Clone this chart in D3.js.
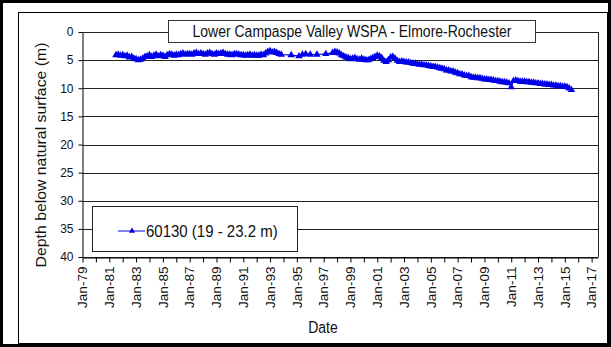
<!DOCTYPE html>
<html>
<head>
<meta charset="utf-8">
<script src="https://cdn.jsdelivr.net/npm/d3@7"></script>
<style>
  html, body { margin: 0; padding: 0; background: #fff; }
  svg { display: block; font-family: "Liberation Sans", Arial, sans-serif; }
</style>
</head>
<body>
<svg id="chart" width="611" height="347"></svg>
<script>
// Bore 60130 — depth to water below natural surface (m)
const chartTitle = "Lower Campaspe Valley WSPA - Elmore-Rochester";
const seriesName = "60130 (19 - 23.2 m)";
const yTicks = [0, 5, 10, 15, 20, 25, 30, 35, 40];
const xTickYears = d3.range(1979, 2018, 2);

const sampleDates = [
  "1981-07","1981-09","1981-11",
  "1982-01","1982-03","1982-05","1982-07","1982-09","1982-11",
  "1983-01","1983-03","1983-05","1983-07","1983-09","1983-11",
  "1984-01","1984-03","1984-05","1984-07","1984-09","1984-11",
  "1985-01","1985-03","1985-05","1985-07","1985-09","1985-11",
  "1986-01","1986-03","1986-05","1986-07","1986-09","1986-11",
  "1987-01","1987-03","1987-05","1987-07","1987-09","1987-11",
  "1988-01","1988-03","1988-05","1988-07","1988-09","1988-11",
  "1989-01","1989-03","1989-05","1989-07","1989-09","1989-11",
  "1990-01","1990-03","1990-05","1990-07","1990-09","1990-11",
  "1991-01","1991-03","1991-05","1991-07","1991-09","1991-11",
  "1992-01","1992-03","1992-05","1992-07","1992-09","1992-11",
  "1993-01","1993-03","1993-05","1993-07","1993-09","1993-11",
  "1994-08","1995-03","1995-06","1995-09","1996-01","1996-07",
  "1997-03","1997-09","1997-11","1998-01","1998-03",
  "1998-05","1998-07","1998-09","1998-11",
  "1999-01","1999-03","1999-05","1999-07","1999-09","1999-11",
  "2000-01","2000-03","2000-05","2000-07","2000-09","2000-11",
  "2001-01","2001-03","2001-05","2001-07","2001-09","2001-11",
  "2002-01","2002-03","2002-05","2002-07","2002-09","2002-11",
  "2003-01","2003-03","2003-05","2003-07","2003-09","2003-11",
  "2004-01","2004-03","2004-05","2004-07","2004-09","2004-11",
  "2005-01","2005-03","2005-05","2005-07","2005-09","2005-11",
  "2006-01","2006-03","2006-05","2006-07","2006-09","2006-11",
  "2007-01","2007-03","2007-05","2007-07","2007-09","2007-11",
  "2008-01","2008-03","2008-05","2008-07","2008-09","2008-11",
  "2009-01","2009-03","2009-05","2009-07","2009-09","2009-11",
  "2010-01","2010-03","2010-05","2010-07","2010-09","2010-11",
  "2011-01","2011-03","2011-05","2011-07","2011-09","2011-11",
  "2012-01","2012-03","2012-05","2012-07","2012-09","2012-11",
  "2013-01","2013-03","2013-05","2013-07","2013-09","2013-11",
  "2014-01","2014-03","2014-05","2014-07","2014-09","2014-11",
  "2015-01","2015-03","2015-05","2015-07"
];

const depthBelowSurface = [
  4.1, 4.0, 4.2,
  4.1, 4.3, 4.2, 4.5, 4.4, 4.7,
  4.8, 5.0, 4.9, 4.7, 4.4, 4.3,
  4.1, 4.4, 4.2, 4.0, 4.3, 4.1,
  4.2, 4.4, 4.1, 3.9, 4.0, 4.2,
  4.0, 4.1, 3.9, 3.8, 4.0, 3.9,
  3.9, 4.0, 3.8, 3.7, 3.9, 3.8,
  3.9, 4.0, 3.8, 3.7, 3.9, 4.0,
  3.8, 3.9, 3.8, 3.7, 3.9, 4.0,
  4.0, 4.1, 3.9, 3.9, 4.0, 4.1,
  4.1, 4.2, 4.1, 4.0, 4.2, 4.1,
  4.2, 4.2, 4.0, 4.1, 3.8, 3.5,
  3.4, 3.6, 3.5, 3.7, 3.9, 4.0,
  4.1, 4.3, 4.0, 3.9, 4.0, 4.0,
  3.9, 3.7, 3.5, 3.6, 3.8,
  4.1, 4.3, 4.5, 4.6,
  4.8, 4.7, 4.6, 4.8, 4.9, 4.7,
  4.9, 5.0, 5.0, 4.8, 4.6, 4.4,
  4.2, 4.3, 4.6, 5.1, 5.3, 5.0,
  4.5, 4.4, 4.7, 5.1, 5.3, 5.2,
  5.3, 5.4, 5.4, 5.5, 5.6, 5.6,
  5.7, 5.8, 5.8, 5.9, 5.9, 6.0,
  6.1, 6.2, 6.2, 6.3, 6.4, 6.5,
  6.6, 6.8, 6.8, 7.0, 7.0, 7.2,
  7.3, 7.5, 7.5, 7.7, 7.8, 7.8,
  8.0, 8.1, 8.1, 8.2, 8.2, 8.3,
  8.4, 8.4, 8.5, 8.5, 8.6, 8.7,
  8.7, 8.8, 8.9, 8.9, 9.0, 9.1,
  9.8, 8.7, 8.6, 8.7, 8.8, 8.8,
  8.8, 8.9, 8.9, 9.0, 9.0, 9.1,
  9.1, 9.2, 9.2, 9.3, 9.3, 9.4,
  9.4, 9.5, 9.5, 9.6, 9.6, 9.7,
  9.7, 9.8, 10.0, 10.3
];

const parseMonth = d3.timeParse("%Y-%m");
const readings = sampleDates.map((s, i) => ({ date: parseMonth(s), depth: depthBelowSurface[i] }));

const svg = d3.select("#chart");
const W = 611, H = 347;
const plot = { left: 82.5, right: 598, top: 32, bottom: 257 };
const seriesColor = "#0000e8";
const textStretch = 1.13;

// frames
svg.append("rect").attr("x", 1.5).attr("y", 1.5).attr("width", W - 3).attr("height", H - 3)
  .attr("fill", "#fff").attr("stroke", "#000").attr("stroke-width", 3);
svg.append("rect").attr("x", 18.5).attr("y", 12.5).attr("width", 589).attr("height", 331)
  .attr("fill", "#fff").attr("stroke", "#000").attr("stroke-width", 1);

const x = d3.scaleTime()
  .domain([new Date(1979, 0, 1), new Date(2017, 5, 24)])
  .range([plot.left, plot.right]);
const y = d3.scaleLinear().domain([0, 40]).range([plot.top, plot.bottom]);

// horizontal gridlines
svg.append("g").selectAll("line").data(yTicks).join("line")
  .attr("x1", plot.left).attr("x2", plot.right)
  .attr("y1", d => Math.round(y(d)) + 0.5).attr("y2", d => Math.round(y(d)) + 0.5)
  .attr("stroke", "#222").attr("stroke-width", 1);

// plot-area right edge
svg.append("line").attr("x1", plot.right + 0.5).attr("x2", plot.right + 0.5)
  .attr("y1", plot.top).attr("y2", plot.bottom).attr("stroke", "#222");

// y axis
const yAxis = svg.append("g").attr("transform", `translate(${plot.left},0)`)
  .call(d3.axisLeft(y).tickValues(yTicks).tickSize(4).tickPadding(5).tickSizeOuter(0));
yAxis.select(".domain").attr("stroke", "#000");
yAxis.selectAll(".tick line").attr("stroke", "#000");
yAxis.selectAll(".tick text").attr("font-size", 12).attr("fill", "#111")
  .attr("font-family", "'Liberation Sans', Arial, sans-serif");

// x axis: yearly ticks, labels every second year
const yearTicks = d3.range(1979, 2018).map(yr => new Date(yr, 0, 1));
const xAxis = svg.append("g").attr("transform", `translate(0,${plot.bottom + 0.5})`)
  .call(d3.axisBottom(x).tickValues(yearTicks).tickSize(5).tickSizeOuter(0)
    .tickFormat(d => xTickYears.includes(d.getFullYear()) ? d3.timeFormat("%b-%y")(d) : ""));
xAxis.select(".domain").attr("stroke", "#000");
xAxis.selectAll(".tick line").attr("stroke", "#000");
xAxis.selectAll(".tick text")
  .attr("font-size", 12).attr("fill", "#111")
  .attr("font-family", "'Liberation Sans', Arial, sans-serif")
  .attr("text-anchor", "end")
  .attr("dy", "0.35em")
  .attr("transform", `translate(0,9) scale(1,${textStretch}) rotate(-90)`)
  .attr("x", 0).attr("y", 0);

// series line and triangle markers
const line = d3.line().x(d => x(d.date)).y(d => y(d.depth));
svg.append("path").datum(readings).attr("d", line)
  .attr("fill", "none").attr("stroke", seriesColor).attr("stroke-width", 1.2);
const tri = d3.symbol().type(d3.symbolTriangle).size(24);
svg.append("g").selectAll("path").data(readings).join("path")
  .attr("d", tri)
  .attr("transform", d => `translate(${x(d.date)},${y(d.depth)})`)
  .attr("fill", seriesColor);

// title box
svg.append("rect").attr("x", 168.5).attr("y", 20.5).attr("width", 367).attr("height", 22)
  .attr("fill", "#fff").attr("stroke", "#333");
svg.append("text").attr("transform", `translate(352,37) scale(1,${textStretch})`)
  .attr("text-anchor", "middle").attr("font-size", 14).attr("fill", "#111")
  .text(chartTitle);

// legend box
svg.append("rect").attr("x", 92.5).attr("y", 206.5).attr("width", 205).attr("height", 45)
  .attr("fill", "#fff").attr("stroke", "#222");
svg.append("line").attr("x1", 118).attr("x2", 145).attr("y1", 231).attr("y2", 231)
  .attr("stroke", seriesColor).attr("stroke-width", 1);
svg.append("path").attr("d", d3.symbol().type(d3.symbolTriangle).size(16))
  .attr("transform", "translate(132,231)").attr("fill", seriesColor);
svg.append("text").attr("transform", `translate(146,236.5) scale(1,${textStretch})`)
  .attr("font-size", 15).attr("fill", "#111").text(seriesName);

// axis titles
svg.append("text").attr("transform", `translate(323,333) scale(1,${textStretch})`)
  .attr("text-anchor", "middle").attr("font-size", 14).attr("fill", "#111").text("Date");
svg.append("text").attr("transform", `translate(46,155) scale(1,${textStretch}) rotate(-90)`)
  .attr("text-anchor", "middle").attr("font-size", 14).attr("fill", "#111")
  .text("Depth below natural surface (m)");
</script>
</body>
</html>
